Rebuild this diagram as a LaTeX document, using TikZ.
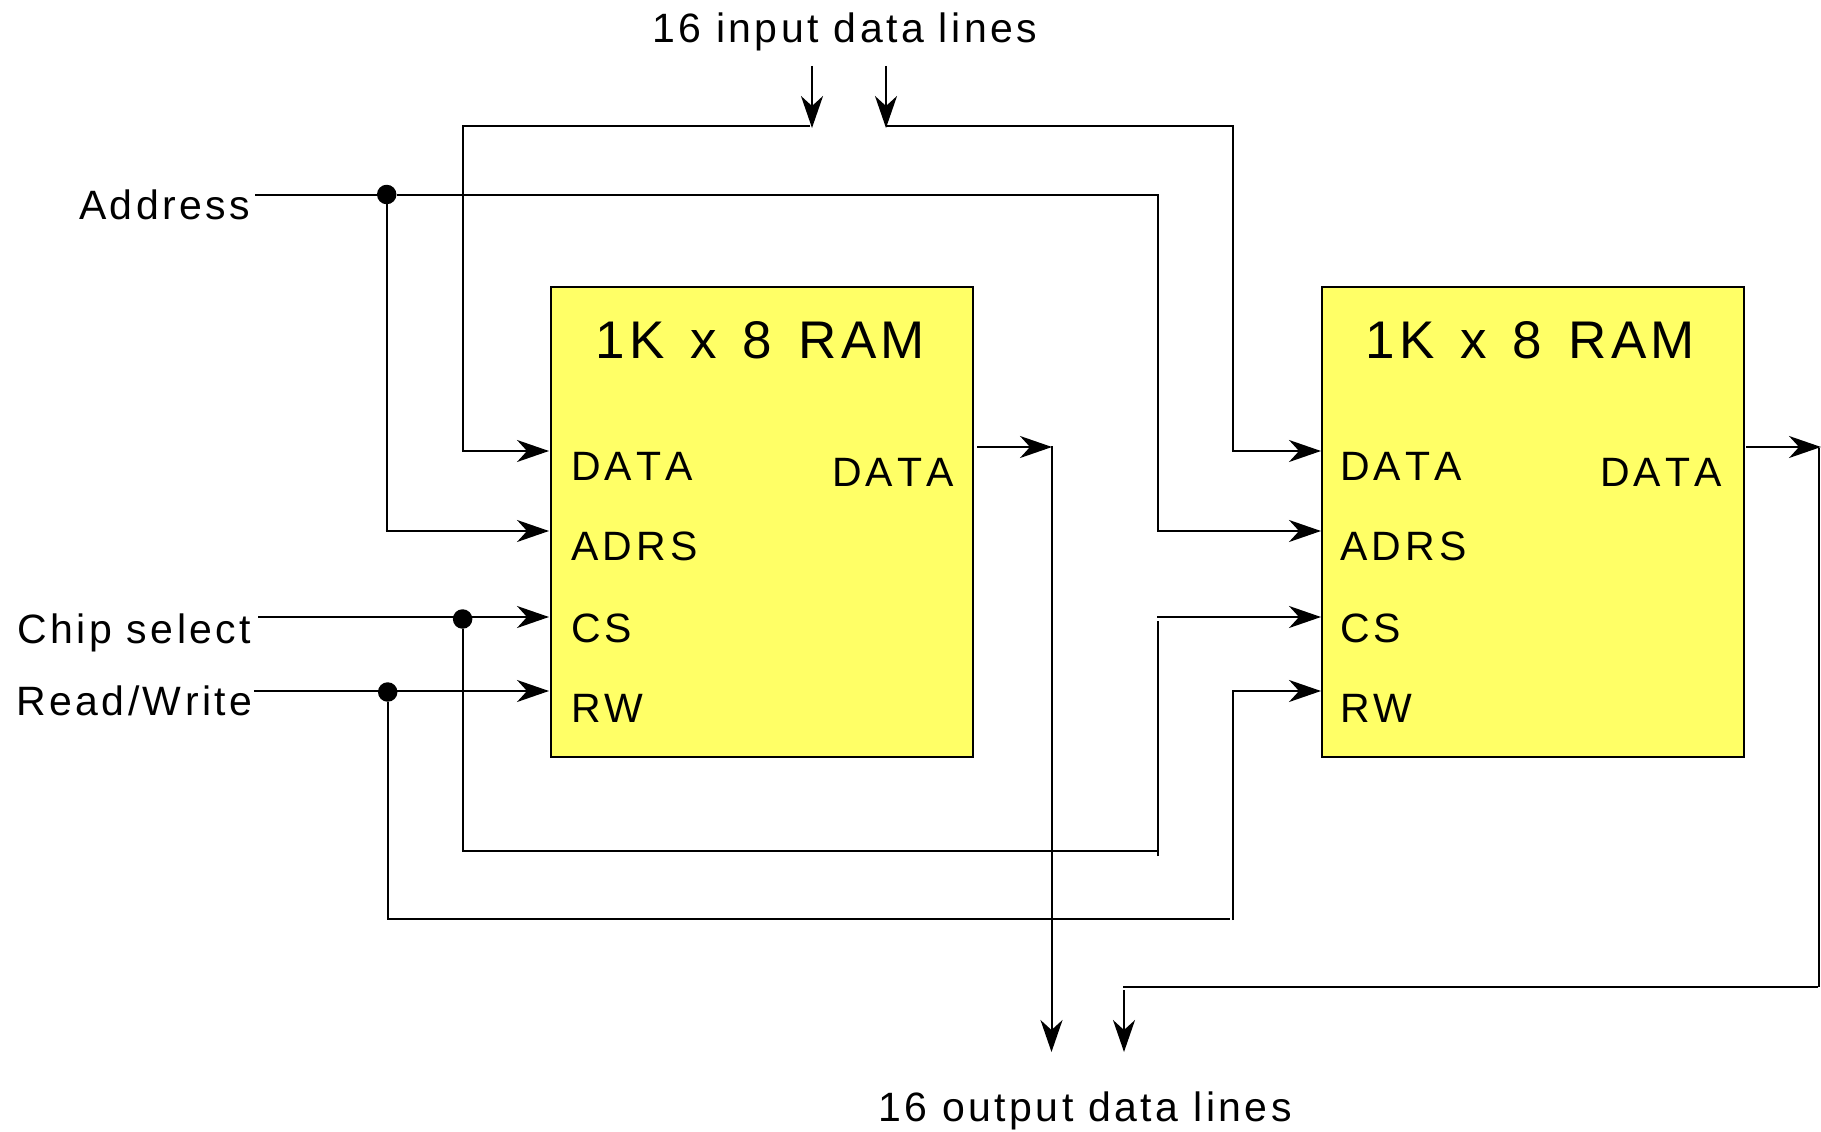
\documentclass[tikz,border=0pt]{standalone}
\usepackage{fontspec}
\setmainfont[LetterSpace=8.5,Kerning=Off]{Liberation Sans}
\newfontfamily\titlefont[LetterSpace=8.5,Kerning=Off,WordSpace=1.35]{Liberation Sans}
\newfontfamily\pinfont[LetterSpace=10,Kerning=Off]{Liberation Sans}
\usetikzlibrary{arrows.meta}
\definecolor{ramyellow}{HTML}{FFFF66}
\tikzset{
  x=1pt,y=-1pt,
  wire/.style={draw=black,line width=2pt,line cap=butt,line join=miter},
  arrowed/.style={wire,-{Stealth[length=32pt,width=22pt,inset=10pt]}},
  ram/.style={draw=black,line width=2pt,fill=ramyellow,minimum width=422pt,minimum height=470pt,inner sep=0pt,anchor=north west},
  dotnode/.style={circle,fill=black,draw=none,minimum size=19.5pt,inner sep=0pt},
  label/.style={anchor=base west,inner sep=0pt,font=\fontsize{41}{48}\selectfont},
  pin/.style={anchor=base west,inner sep=0pt,font=\pinfont\fontsize{41}{48}\selectfont},
  title/.style={anchor=base west,inner sep=0pt,font=\titlefont\fontsize{53}{60}\selectfont}
}
\begin{document}
\begin{tikzpicture}
\useasboundingbox (0,0) rectangle (1821,1132);
% boxes
\node[ram] (ramA) at (550.3,285.5) {};
\node[ram] (ramB) at (1320.6,285.5) {};
% texts
\node[label] (inlabel) at (652,43) {16 input data lines};
\node[label] (outlabel) at (878,1121) {16 output data lines};
\node[label] (addr) at (79,219) {Address};
\node[label] (chip) at (17,643) {Chip select};
\node[label] (rdwr) at (16,715) {Read/Write};
\node[title] (titleA) at (595,358) {1K x 8 RAM};
\node[title] (titleB) at (1365,358) {1K x 8 RAM};
\node[pin] (dataA) at (571,480) {DATA};
\node[pin] (adrsA) at (571,560) {ADRS};
\node[pin] (csA) at (571,642.5) {CS};
\node[pin] (rwA) at (571,722) {RW};
\node[pin] (outA) at (832,486) {DATA};
\node[pin] (dataB) at (1340,480) {DATA};
\node[pin] (adrsB) at (1340,560) {ADRS};
\node[pin] (csB) at (1340,642.5) {CS};
\node[pin] (rwB) at (1340,722) {RW};
\node[pin] (outB) at (1600,486) {DATA};
% junctions
\node[dotnode] (jA) at (386.7,194.5) {};
\node[dotnode] (jC) at (462.6,619) {};
\node[dotnode] (jR) at (387.7,692) {};
% free ends
\coordinate (inL0) at (812,66);
\coordinate (inL1) at (813,128);
\coordinate (inR0) at (886,66);
\coordinate (inR1) at (886,128);
\coordinate (pDA) at (549,451);
\coordinate (pAA) at (549,531);
\coordinate (pCA) at (549,617);
\coordinate (pRA) at (549,691);
\coordinate (pDB) at (1321,451);
\coordinate (pAB) at (1321,531);
\coordinate (pCB) at (1321,617);
\coordinate (pRB) at (1321,691);
\coordinate (addr0) at (255,194.5);
\coordinate (chip0) at (258,617);
\coordinate (rdwr0) at (254,691);
% input data
\draw[arrowed] (inL0) -- (inL0 |- inL1);
\draw[arrowed] (inR0) -- (inR1);
\draw[wire] (810,126) -| (463,451);
\draw[arrowed] (462,451) -- (pDA);
\draw[wire] (886,126) -| (1233,451);
\draw[arrowed] (1232,451) -- (pDB);
% address
\draw[wire] (addr0) -- (jA);
\draw[wire] (jA) -| (1158,531);
\draw[wire] (jA) -- (386.7,531);
\draw[arrowed] (385.7,531) -- (pAA);
\draw[arrowed] (1157,531) -- (pAB);
% chip select
\draw[arrowed] (chip0) -- (pCA);
\draw[wire] (jC) -- (462.6,851) -- (1158,851);
\draw[wire] (1158,856) -- (1158,621);
\draw[arrowed] (1157,617) -- (pCB);
% read/write
\draw[arrowed] (rdwr0) -- (pRA);
\draw[wire] (jR) -- (387.7,919) -- (1230,919);
\draw[wire] (1233,920) -- (1233,690);
\draw[arrowed] (1232,691) -- (pRB);
% outputs
\coordinate (tipOA) at (1052,447);
\coordinate (tipOB) at (1821,447);
\draw[arrowed] (977,447) -- (tipOA);
\draw[arrowed] (1051.5,446) -- (1051.5,1052);
\draw[arrowed] (1746,447) -- (tipOB);
\draw[wire] (1819,448) -- (1819,987);
\draw[wire] (1818,986.5) -- (1123,986.5);
\draw[arrowed] (1124,990) -- (1124,1052);
\end{tikzpicture}
\end{document}
